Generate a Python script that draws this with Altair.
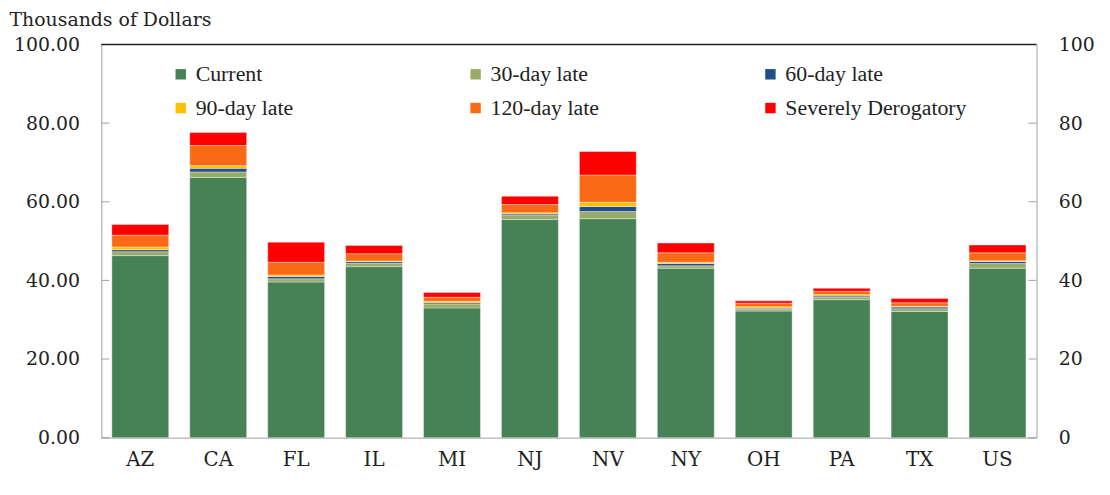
import altair as alt
import pandas as pd

states = ["AZ", "CA", "FL", "IL", "MI", "NJ", "NV", "NY", "OH", "PA", "TX", "US"]
categories = ["Current", "30-day late", "60-day late", "90-day late", "120-day late", "Severely Derogatory"]
colors = ["#478256", "#98AB68", "#1F4E8C", "#FFC000", "#F86A15", "#FF0000"]

current = [46.3, 66.2, 39.6, 43.5, 33.0, 55.5, 55.7, 43.1, 32.2, 35.1, 32.1, 43.1]
late30 = [1.0, 1.4, 0.8, 0.9, 1.0, 1.1, 1.8, 0.6, 0.4, 0.6, 0.7, 1.2]
late60 = [0.5, 0.9, 0.6, 0.4, 0.3, 0.3, 1.3, 0.6, 0.3, 0.3, 0.4, 0.5]
late90 = [0.7, 0.7, 0.4, 0.15, 0.4, 0.3, 1.1, 0.3, 0.4, 0.4, 0.2, 0.2]
late120 = [3.0, 5.1, 3.2, 1.85, 1.0, 2.1, 6.9, 2.4, 0.9, 0.8, 0.9, 2.0]
severe = [2.7, 3.3, 5.1, 2.1, 1.2, 2.1, 6.0, 2.5, 0.6, 0.8, 1.1, 2.0]

tick_values = [0, 20, 40, 60, 80, 100]

series = [current, late30, late60, late90, late120, severe]
rows = []
for ci, (cat, vals) in enumerate(zip(categories, series)):
    for s, v in zip(states, vals):
        rows.append({"state": s, "category": cat, "order": ci, "value": v})
df = pd.DataFrame(rows)
ticks_df = pd.DataFrame({"t": tick_values})

FONT = "DejaVu Serif"
LFONT = "Liberation Serif"
W, H = 942, 396

bars = alt.Chart(df).mark_bar(stroke="#ffffff", strokeWidth=0.6, strokeOpacity=0.6).encode(
    x=alt.X("state:N", sort=states,
            scale=alt.Scale(paddingInner=0.27, paddingOuter=0.135),
            axis=alt.Axis(title=None, labelAngle=0, ticks=False, domainColor="#a0a0a0",
                          labelFont=FONT, labelFontSize=20, labelColor="#222222",
                          labelPadding=12)),
    y=alt.Y("value:Q", stack="zero",
            scale=alt.Scale(domain=[0, 100], nice=False),
            axis=alt.Axis(values=tick_values, format=".2f", ticks=False, grid=False,
                          domainColor="#a0a0a0", labelFont=FONT, labelFontSize=19,
                          labelColor="#222222", labelPadding=22,
                          title="Thousands of Dollars", titleAngle=0, titleAlign="left",
                          titleBaseline="alphabetic", titleX=-93, titleY=-19,
                          titleFont=FONT, titleFontSize=19, titleFontWeight="normal",
                          titleColor="#222222")),
    color=alt.Color("category:N", sort=categories,
                    scale=alt.Scale(domain=categories, range=colors),
                    legend=alt.Legend(title=None, orient="none", legendX=69, legendY=19,
                                      direction="horizontal",
                                      columns=3, gridAlign="all", columnPadding=88,
                                      rowPadding=12, symbolType="square", symbolSize=110,
                                      symbolStrokeWidth=0, symbolOpacity=1,
                                      labelFont=LFONT, labelFontSize=22, labelLimit=400,
                                      labelColor="#222222", labelOffset=4, padding=0)),
    order=alt.Order("order:Q", sort="ascending"),
)

left_ticks = alt.Chart(ticks_df).mark_rule(color="#a0a0a0", strokeWidth=1).encode(
    y=alt.Y("t:Q", scale=alt.Scale(domain=[0, 100], nice=False),
            axis=alt.Axis(orient="right", values=tick_values, format="d", ticks=False,
                          grid=False, domainColor="#a0a0a0", labelFont=FONT,
                          labelFontSize=19, labelColor="#222222", labelPadding=22,
                          title=None)),
    x=alt.value(0), x2=alt.value(8),
)
right_ticks = alt.Chart(ticks_df).mark_rule(color="#a0a0a0", strokeWidth=1).encode(
    y=alt.Y("t:Q"), x=alt.value(W - 8), x2=alt.value(W),
)
top_line = alt.Chart(pd.DataFrame({"t": [100]})).mark_rule(color="#222222", strokeWidth=1.5).encode(
    y=alt.Y("t:Q"), x=alt.value(0), x2=alt.value(W),
)

tick_layer = alt.layer(left_ticks, right_ticks, top_line)

chart = alt.layer(bars, tick_layer).resolve_scale(y="independent").properties(
    width=W, height=H,
    autosize=alt.AutoSizeParams(type="none"),
    padding={"left": 94, "top": 35, "right": 66, "bottom": 56},
).configure(
    background="#ffffff", font=FONT,
).configure_view(stroke=None)

chart.save("out.html", embed_options={"renderer": "svg", "actions": False})
